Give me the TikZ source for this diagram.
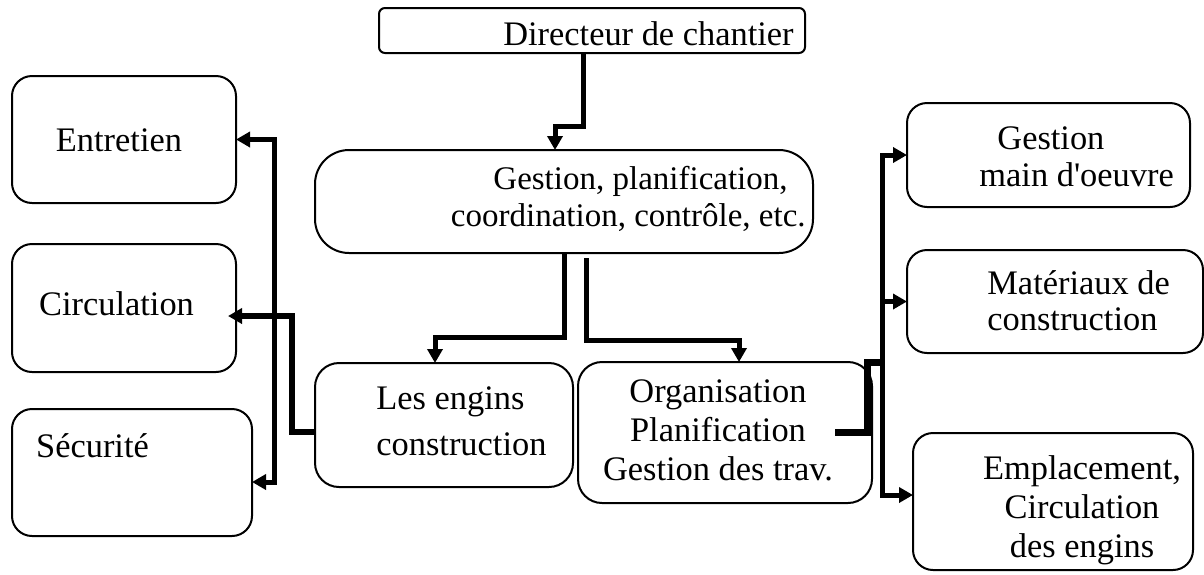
\documentclass[tikz,border=0pt]{standalone}
\usepackage{fontspec}
\setmainfont{Liberation Serif}[Ligatures=TeXOff]
\usetikzlibrary{arrows.meta}

\begin{document}
\begin{tikzpicture}[x=0.5pt,y=-0.5pt,
	box/.style={draw, line width=1pt, rounded corners=#1, inner sep=0pt, outer sep=0pt},
	box/.default=10pt,
	conn/.style={line width=2.5pt},
	arr/.style={conn, -{Triangle[length=7pt,width=7.5pt]}},
	txt/.style={font=\fontsize{17.2pt}{23pt}\selectfont, inner sep=0pt}]
	\useasboundingbox (0,0) rectangle (1204,574);

	% top of the chart
	\node[box=3pt, minimum width=213pt, minimum height=22.5pt] (dir) at (592,30.5) {};
	\node[txt, anchor=base east] (dir-t) at (794,45) {Directeur de chantier};
	\node[box=17pt, minimum width=249pt, minimum height=51.5pt] (gest) at (564,201.5) {};
	\node[txt, font=\fontsize{16.5pt}{18.5pt}\selectfont, align=right, anchor=base east] (gest-t) at (806,226)
		{Gestion, planification,\kern9pt\\coordination, contrôle, etc.};

	% middle row (base = last line)
	\node[box=12pt, minimum width=129pt, minimum height=62pt] (engins) at (444,425) {};
	\node[txt, align=left, anchor=base west] (engins-t) at (376,455) {Les engins\\construction};
	\node[box=12pt, minimum width=147pt, minimum height=70.5pt] (org) at (725,432.5) {};
	\node[txt, font=\fontsize{17.2pt}{19.5pt}\selectfont, align=center, anchor=base] (org-t) at (718,480)
		{Organisation\\Planification\\Gestion des trav.};

	% left column
	\node[box, minimum width=112pt, minimum height=63.5pt] (entr) at (124,139.5) {};
	\node[txt, anchor=base] (entr-t) at (119,151) {Entretien};
	\node[box, minimum width=112pt, minimum height=64pt] (circ) at (124,308) {};
	\node[txt, anchor=base] (circ-t) at (116.5,315) {Circulation};
	\node[box, minimum width=120pt, minimum height=63.5pt] (secu) at (132,472.5) {};
	\node[txt, anchor=base] (secu-t) at (92.5,457) {Sécurité};

	% right column
	\node[box, minimum width=141.5pt, minimum height=52pt] (gmo) at (1048.5,155) {};
	\node[txt, font=\fontsize{17.2pt}{18.5pt}\selectfont, align=left, anchor=base west] (gmo-t) at (979,186)
		{\hspace{9pt}Gestion\\main d'oeuvre};
	\node[box, minimum width=148pt, minimum height=51.5pt] (mat) at (1055,301.5) {};
	\node[txt, font=\fontsize{17.2pt}{18pt}\selectfont, align=left, anchor=base west] (mat-t) at (987,330)
		{Matériaux de\\construction};
	\node[box, minimum width=140pt, minimum height=68.5pt] (empl) at (1053,501.5) {};
	\node[txt, font=\fontsize{17.2pt}{19.5pt}\selectfont, align=center, anchor=base] (empl-t) at (1082,557)
		{Emplacement,\\Circulation\\des engins};

	\coordinate (lknee) at (292,316);
	\coordinate (ltrunk) at (274,300);
	\coordinate (rknee) at (867,362);
	\coordinate (rtrunk) at (882,300);

	% connectors
	\draw[arr] ([xshift=-4.5pt]dir.south) -- ++(0,73) -| ([xshift=-4.5pt]gest.north);
	\draw[arr] (gest.south) -- ++(0,84) -| ([xshift=-4.5pt]engins.north);
	\draw[arr] ([xshift=11pt,yshift=-2.5pt]gest.south) -- ++(0,82) -| ([xshift=7pt]org.north);
	\draw[conn, {Triangle[length=7pt,width=7.5pt]}-{Triangle[length=7pt,width=7.5pt]}]
		(entr.east) -| (ltrunk) |- ([yshift=-4.75pt]secu.east);
	\draw[arr, line width=3pt] ([yshift=-3.5pt]engins.west) -| (lknee) -- ([xshift=-4pt,yshift=-4pt]circ.east);
	\draw[conn, line width=3.5pt] ([xshift=-18.5pt]org.east) -| (rknee) -- (rknee -| rtrunk);
	\draw[conn, {Triangle[length=7pt,width=7.5pt]}-{Triangle[length=7pt,width=7.5pt]}]
		(gmo.west) -| (rtrunk) |- ([yshift=3.25pt]empl.west);
	\draw[arr] (rtrunk |- mat.west) -- (mat.west);
\end{tikzpicture}
\end{document}
